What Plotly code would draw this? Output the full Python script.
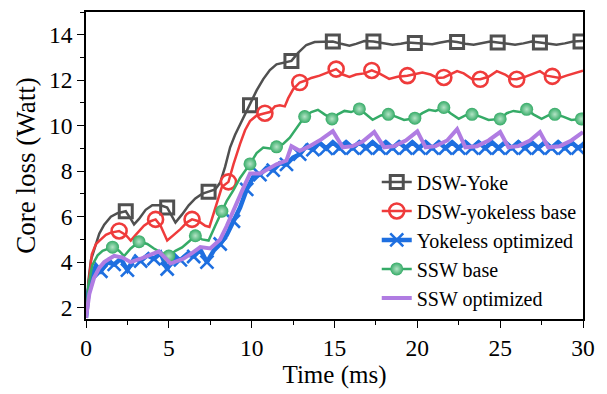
import plotly.graph_objects as go

# ---------------- data ----------------
gray_t = [0, 0.15, 0.3, 0.5, 0.8, 1.1, 1.5, 1.9, 2.4, 2.7, 2.9, 3.2, 3.6, 4.0, 4.5, 4.9, 5.2, 5.4,
          5.8, 6.2, 6.6, 7.0, 7.4, 7.8, 8.1, 8.4, 8.7, 9.0, 9.3, 9.6, 9.9, 10.3, 10.7, 11.1, 11.5,
          12.0, 12.4, 12.8, 13.3, 13.8, 14.4, 14.9, 15.4, 15.9, 16.3, 16.8, 17.35, 17.9, 18.5, 19.0,
          19.4, 19.85, 20.4, 20.9, 21.4, 21.9, 22.4, 22.9, 23.4, 23.9, 24.4, 24.85, 25.4, 25.9,
          26.4, 26.9, 27.4, 27.9, 28.4, 28.9, 29.4, 30.0]
gray_v = [1.55, 3.2, 4.1, 4.6, 5.25, 5.65, 6.0, 6.15, 6.24, 5.9, 5.66, 5.9, 6.3, 6.5, 6.5, 6.4, 6.0, 5.74,
          6.1, 6.5, 6.8, 7.0, 7.1, 7.2, 7.5, 8.2, 9.05, 9.6, 10.05, 10.5, 10.9, 11.55, 12.05, 12.45, 12.7,
          12.8, 12.85, 13.2, 13.55, 13.68, 13.7, 13.7, 13.6, 13.52, 13.6, 13.72, 13.7, 13.62, 13.56, 13.6,
          13.66, 13.64, 13.6, 13.58, 13.66, 13.72, 13.68, 13.6, 13.56, 13.62, 13.7, 13.66, 13.6, 13.56,
          13.62, 13.7, 13.66, 13.6, 13.56, 13.62, 13.7, 13.72]
gray_mt = [2.4, 4.9, 7.4, 9.9, 12.4, 14.9, 17.35, 19.85, 22.4, 24.85, 27.4, 29.85]
gray_mv = [6.24, 6.4, 7.1, 10.9, 12.85, 13.7, 13.7, 13.64, 13.68, 13.66, 13.66, 13.7]

red_t = [0, 0.15, 0.35, 0.6, 0.9, 1.2, 1.5, 2.0, 2.4, 2.7, 3.0, 3.5, 3.9, 4.2, 4.5, 4.9, 5.3, 5.7,
         6.1, 6.4, 6.8, 7.2, 7.45, 7.7, 7.95, 8.2, 8.6, 8.9, 9.3, 9.6, 9.9, 10.3, 10.8, 11.1, 11.4,
         11.7, 12.0, 12.2, 12.5, 12.9, 13.3, 13.6, 14.1, 14.6, 15.1, 15.5, 15.9, 16.3, 16.8, 17.25,
         17.7, 18.3, 18.8, 19.4, 19.8, 20.3, 20.8, 21.2, 21.6, 22.0, 22.4, 22.8, 23.3, 23.8, 24.3,
         24.8, 25.3, 25.7, 26.0, 26.5, 27.0, 27.4, 27.8, 28.15, 28.6, 29.0, 29.5, 30.0]
red_v = [1.55, 3.0, 4.35, 4.8, 5.0, 5.2, 5.3, 5.37, 5.2, 4.95, 5.2, 5.6, 5.8, 5.88, 5.6, 4.95, 5.2, 5.45,
         5.75, 5.88, 5.8, 5.6, 5.55, 6.1, 6.7, 7.3, 7.53, 8.3, 9.2, 9.8, 10.2, 10.45, 10.55, 10.6, 10.85,
         10.9, 10.85, 11.2, 11.6, 11.9, 12.0, 12.1, 12.2, 12.35, 12.49, 12.25, 12.15, 12.25, 12.3, 12.43,
         12.3, 12.06, 12.15, 12.2, 12.25, 12.34, 12.25, 12.1, 12.12, 12.25, 12.4, 12.3, 12.05, 12.04, 12.15,
         12.4, 12.25, 12.05, 12.04, 12.15, 12.3, 12.4, 12.2, 12.17, 12.1, 12.2, 12.3, 12.42]
red_mt = [2.0, 4.2, 6.4, 8.6, 10.8, 12.9, 15.1, 17.25, 19.4, 21.6, 23.8, 26.0, 28.15]
red_mv = [5.37, 5.88, 5.88, 7.53, 10.55, 11.9, 12.49, 12.43, 12.2, 12.12, 12.04, 12.04, 12.17]

blue_t = [0, 0.15, 0.35, 0.6, 0.9, 1.3, 1.7, 2.1, 2.5, 2.9, 3.3, 3.7, 4.1, 4.5, 4.9, 5.3, 5.7, 6.1,
          6.5, 6.9, 7.3, 7.7, 8.1, 8.5, 8.9, 9.3, 9.7, 10.1, 10.5, 10.9, 11.3, 11.7, 12.1, 12.5,
          12.9, 13.3, 13.7, 14.1, 14.5, 14.9, 15.3, 15.7, 16.1, 16.5, 16.9, 17.3, 17.7, 18.1,
          18.5, 18.9, 19.3, 19.7, 20.1, 20.5, 20.9, 21.3, 21.7, 22.1, 22.5, 22.9, 23.3, 23.7,
          24.1, 24.5, 24.9, 25.3, 25.7, 26.1, 26.5, 26.9, 27.3, 27.7, 28.1, 28.5, 28.9, 29.3,
          29.7, 30.0]
blue_v = [1.55, 2.7, 3.4, 3.85, 3.6, 4.0, 3.9, 4.15, 3.65, 4.15, 4.05, 4.3, 4.15, 4.4, 3.7, 4.2, 4.1, 4.35,
          4.25, 4.55, 4.0, 4.5, 4.8, 5.2, 5.8, 6.4, 7.2, 7.75, 7.85, 8.15, 8.05, 8.35, 8.3, 8.6,
          8.75, 9.1, 8.95, 9.25, 9.0, 9.27, 9.02, 9.27, 9.02, 9.27, 9.02, 9.27, 9.02, 9.27,
          9.02, 9.27, 9.02, 9.27, 9.02, 9.27, 9.02, 9.27, 9.02, 9.27, 9.02, 9.27, 9.02, 9.27,
          9.02, 9.27, 9.02, 9.27, 9.02, 9.27, 9.02, 9.27, 9.02, 9.27, 9.02, 9.27, 9.02, 9.27,
          9.02, 9.15]
blue_mt = [0.9, 1.7, 2.5, 3.3, 4.1, 4.9, 5.7, 6.5, 7.3, 8.1, 8.9, 9.7, 10.5, 11.3, 12.1, 12.9, 13.7,
           14.5, 15.3, 16.1, 16.9, 17.7, 18.5, 19.3, 20.1, 20.9, 21.7, 22.5, 23.3, 24.1, 24.9,
           25.7, 26.5, 27.3, 28.1, 28.9, 29.7]
blue_mv = [3.6, 3.9, 3.65, 4.05, 4.15, 3.7, 4.1, 4.25, 4.0, 4.8, 5.8, 7.2, 7.85, 8.05, 8.3, 8.75, 8.95,
           9.0, 9.02, 9.02, 9.02, 9.02, 9.02, 9.02, 9.02, 9.02, 9.02, 9.02, 9.02, 9.02, 9.02,
           9.02, 9.02, 9.02, 9.02, 9.02, 9.02]

green_t = [0, 0.15, 0.38, 0.7, 1.0, 1.6, 2.0, 2.3, 2.7, 3.2, 3.7, 4.1, 4.6, 5.0, 5.4, 5.8, 6.2, 6.6,
           7.0, 7.4, 7.8, 8.2, 8.5, 8.9, 9.3, 9.9, 10.3, 10.7, 11.1, 11.5, 11.9, 12.3, 12.7, 13.2,
           13.6, 14.0, 14.4, 14.85, 15.2, 15.6, 16.0, 16.5, 16.9, 17.3, 17.8, 18.25, 18.7, 19.2,
           19.85, 20.3, 20.7, 21.1, 21.6, 22.0, 22.5, 22.9, 23.3, 23.8, 24.3, 25.0, 25.4, 25.8,
           26.2, 26.6, 27.0, 27.5, 27.9, 28.3, 28.8, 29.3, 29.9, 30.0]
green_v = [1.55, 3.0, 3.87, 4.3, 4.5, 4.66, 4.5, 4.27, 4.6, 4.9, 4.8, 4.6, 4.4, 4.27, 4.5, 4.65, 4.9, 5.16,
           5.0, 4.95, 5.6, 6.24, 6.7, 7.17, 7.7, 8.32, 8.8, 9.04, 9.0, 9.07, 9.2, 9.47, 9.9, 10.4,
           10.6, 10.7, 10.5, 10.3, 10.5, 10.65, 10.6, 10.74, 10.5, 10.26, 10.45, 10.5, 10.4, 10.25,
           10.33, 10.55, 10.7, 10.65, 10.8, 10.55, 10.3, 10.45, 10.5, 10.4, 10.25, 10.3, 10.55, 10.65,
           10.6, 10.72, 10.5, 10.3, 10.45, 10.5, 10.4, 10.25, 10.3, 10.32]
green_mt = [1.6, 3.2, 5.0, 6.6, 8.2, 9.9, 11.5, 13.2, 14.85, 16.5, 18.25, 19.85, 21.6, 23.3, 25.0,
            26.6, 28.3, 29.9]
green_mv = [4.66, 4.9, 4.27, 5.16, 6.24, 8.32, 9.07, 10.4, 10.3, 10.74, 10.5, 10.33, 10.8, 10.5, 10.3,
            10.72, 10.5, 10.3]

purple_t = [0, 0.2, 0.48, 0.8, 1.1, 1.7, 2.2, 2.7, 3.3, 3.9, 4.4, 5.1, 5.5, 5.9, 6.4, 6.9, 7.5, 8.1,
            8.5, 8.9, 9.4, 9.9, 10.5, 11.0, 11.5, 12.1, 12.4, 12.9, 13.5, 14.2, 14.9, 15.5, 16.1,
            16.7, 17.4, 18.0, 18.6, 19.3, 20.0, 20.5, 21.1, 21.8, 22.4, 22.9, 23.6, 24.3, 25.0,
            25.5, 26.1, 26.8, 27.4, 27.9, 28.6, 29.3, 30.0]
purple_v = [1.55, 2.6, 3.3, 3.75, 4.0, 4.28, 4.2, 4.0, 4.15, 4.3, 4.47, 3.94, 4.05, 4.16, 4.4, 4.66, 4.6, 5.0,
            5.6, 6.3, 7.1, 7.9, 7.9, 8.1, 8.3, 8.47, 9.1, 8.9, 9.1, 9.4, 9.76, 9.05, 9.1,
            9.3, 9.72, 9.05, 9.1, 9.35, 9.75, 9.05, 9.1, 9.35, 9.85, 9.05, 9.1, 9.35, 9.72,
            9.05, 9.1, 9.35, 9.72, 9.05, 9.1, 9.35, 9.72]

names = ["DSW-Yoke", "DSW-yokeless base", "Yokeless optimized", "SSW base", "SSW optimized"]
colors = ["#505050", "#ef3b3b", "#1e6fe0", "#35ab67", "#b07ce2"]

x_ticks = [0, 5, 10, 15, 20, 25, 30]
y_ticks = [2, 4, 6, 8, 10, 12, 14]

FONT = "Liberation Serif, Times New Roman, serif"

fig = go.Figure()

series = [
    (gray_t, gray_v, gray_mt, gray_mv, 2.5,
     dict(symbol="square-open", size=13, line=dict(width=3, color=colors[0]), color=colors[0])),
    (red_t, red_v, red_mt, red_mv, 2.5,
     dict(symbol="circle-open", size=15, line=dict(width=2.6, color=colors[1]), color=colors[1])),
    (blue_t, blue_v, blue_mt, blue_mv, 4.5,
     dict(symbol="x-thin", size=13, line=dict(width=2.6, color=colors[2]), color=colors[2])),
    (green_t, green_v, green_mt, green_mv, 2.5,
     dict(symbol="circle", size=13, color=colors[3], line=dict(width=0),
          gradient=dict(type="radial", color="#b4e4c6"))),
    (purple_t, purple_v, None, None, 4, None),
]

for i, (t, v, mt, mv, lw, mk) in enumerate(series):
    fig.add_trace(go.Scatter(x=t, y=v, mode="lines", line=dict(color=colors[i], width=lw),
                             showlegend=False, hoverinfo="skip"))
    if mt is not None:
        fig.add_trace(go.Scatter(x=mt, y=mv, mode="markers", marker=mk, showlegend=False,
                                 hoverinfo="skip"))

# legend entries
for i, (t, v, mt, mv, lw, mk) in enumerate(series):
    if mk is not None:
        fig.add_trace(go.Scatter(x=[None], y=[None], mode="lines+markers", name=names[i],
                                 line=dict(color=colors[i], width=lw), marker=mk))
    else:
        fig.add_trace(go.Scatter(x=[None], y=[None], mode="lines", name=names[i],
                                 line=dict(color=colors[i], width=lw)))

axis_common = dict(
    showgrid=False, zeroline=False, showline=True, linecolor="black", linewidth=1.6,
    mirror=True, ticks="outside", ticklen=7, tickwidth=1.4, tickcolor="black",
    tickfont=dict(family=FONT, size=23.5, color="black"),
)

fig.update_xaxes(range=[0, 30], tickvals=x_ticks, ticktext=[str(x) for x in x_ticks],
                 minor=dict(dtick=2.5, ticks="outside", ticklen=4, tickwidth=1.2, tickcolor="black"),
                 title=dict(text="Time (ms)", font=dict(family=FONT, size=25, color="black"), standoff=5),
                 **axis_common)
fig.update_yaxes(range=[1.5, 15], tickvals=y_ticks, ticktext=[str(y) for y in y_ticks],
                 minor=dict(dtick=1, tick0=1, ticks="outside", ticklen=4, tickwidth=1.2, tickcolor="black"),
                 title=dict(text="Core loss (Watt)", font=dict(family=FONT, size=27, color="black"), standoff=6),
                 **axis_common)

fig.update_layout(
    width=607, height=394,
    margin=dict(l=86, r=24, t=10, b=73),
    paper_bgcolor="white", plot_bgcolor="white",
    font=dict(family=FONT, color="black"),
    legend=dict(x=0.585, y=0.51, xanchor="left", yanchor="top",
                font=dict(family=FONT, size=20, color="black"),
                bgcolor="rgba(255,255,255,0)", borderwidth=0, tracegroupgap=0),
)

fig.write_html("out.html")
